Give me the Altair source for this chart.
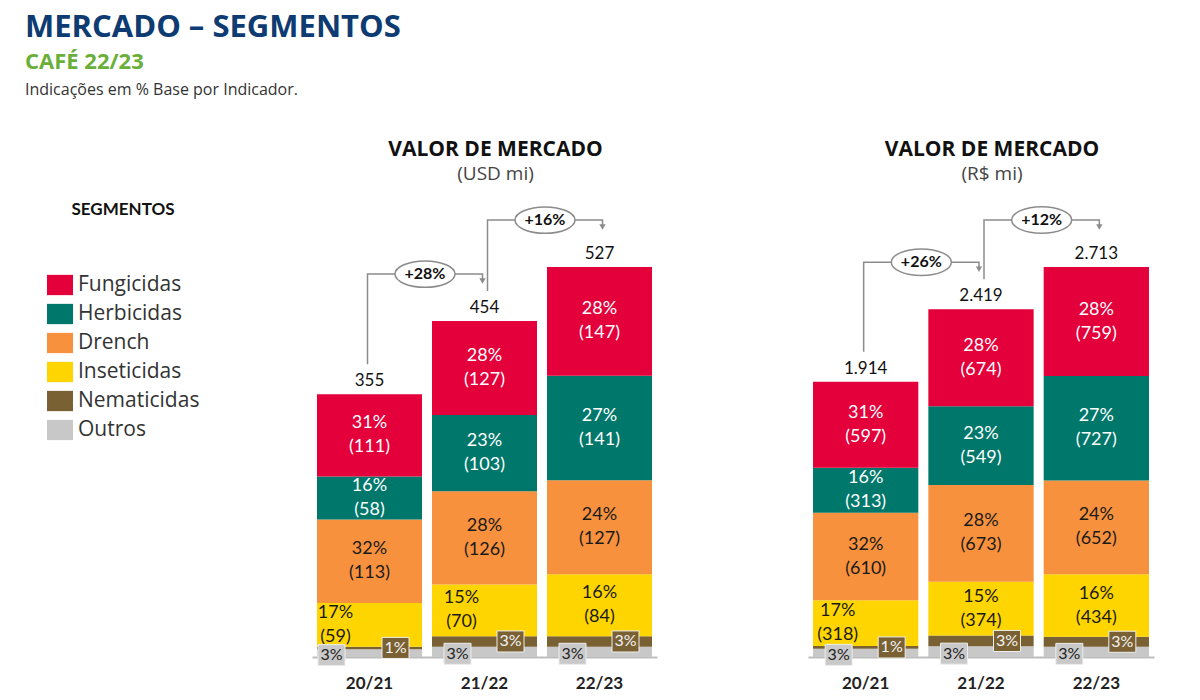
import altair as alt
import pandas as pd

# ---------------- data ----------------
SEASONS = ["20/21", "21/22", "22/23"]
SEGMENTS = ["Fungicidas", "Herbicidas", "Drench", "Inseticidas", "Nematicidas", "Outros"]
COLORS = ["#E4003A", "#00776B", "#F7913D", "#FFD500", "#7A6133", "#C8C8C8"]

# USD mi
USD_FUNGICIDAS = [111, 127, 147]
USD_HERBICIDAS = [58, 103, 141]
USD_DRENCH = [113, 126, 127]
USD_INSETICIDAS = [59, 70, 84]
USD_NEMATICIDAS = [3.5, 14, 14]
USD_OUTROS = [10.5, 14, 14]
USD_TOTALS = [355, 454, 527]
USD_TOTAL_LABELS = ["355", "454", "527"]
USD_GROWTH = ["+28%", "+16%"]

# R$ mi
BRL_FUNGICIDAS = [597, 674, 759]
BRL_HERBICIDAS = [313, 549, 727]
BRL_DRENCH = [610, 673, 652]
BRL_INSETICIDAS = [318, 374, 434]
BRL_NEMATICIDAS = [19, 75, 70]
BRL_OUTROS = [57, 74, 71]
BRL_TOTALS = [1914, 2419, 2713]
BRL_TOTAL_LABELS = ["1.914", "2.419", "2.713"]
BRL_GROWTH = ["+26%", "+12%"]

# shares (%), same in both panels
PCT_FUNGICIDAS = [31, 28, 28]
PCT_HERBICIDAS = [16, 23, 27]
PCT_DRENCH = [32, 28, 24]
PCT_INSETICIDAS = [17, 15, 16]
PCT_NEMATICIDAS = [1, 3, 3]
PCT_OUTROS = [3, 3, 3]

# ---------------- layout / style ----------------
H = 455
GRAY = "#8C8C8C"
RECT_PATH = "M-1,-0.78L1,-0.78L1,0.78L-1,0.78Z"
ELLIPSE_PATH = "M-1,0A1,0.44 0 1,1 1,0A1,0.44 0 1,1 -1,0Z"
NUM_FONT = "Lato"
TXT_FONT = "Open Sans"
LINE_H = 24

pcts = {
    "Fungicidas": PCT_FUNGICIDAS, "Herbicidas": PCT_HERBICIDAS, "Drench": PCT_DRENCH,
    "Inseticidas": PCT_INSETICIDAS, "Nematicidas": PCT_NEMATICIDAS, "Outros": PCT_OUTROS,
}


def frame(vals):
    rows = []
    for j, s in enumerate(SEASONS):
        base = 0.0
        for seg in reversed(SEGMENTS):
            v = vals[seg][j]
            rows.append(dict(season=s, segment=seg, value=v, y0=base, y1=base + v,
                             mid=base + v / 2, pct=f"{pcts[seg][j]}%",
                             label=f"{pcts[seg][j]}%\n({v:g})"))
            base += v
    return pd.DataFrame(rows)


def panel(vals, totals, total_labels, growth, unit, ymax, width, show_legend, shifts, box_shift):
    df = frame(vals)
    k = H / ymax  # pixels per unit
    step = width / 3.0
    xs = alt.Scale(domain=SEASONS, paddingInner=0.087, paddingOuter=0.0435)
    x_enc = alt.X("season:N", sort=SEASONS, scale=xs,
                  axis=alt.Axis(title=None, labelAngle=0, labelFont=NUM_FONT, labelFontSize=17,
                                labelFontWeight="bold", labelColor="#222", labelPadding=18,
                                ticks=False, domainColor="#BDBDBD", domainWidth=2, grid=False))
    ys = alt.Scale(domain=[0, ymax], nice=False, zero=True)

    legend = None
    if show_legend:
        legend = alt.Legend(title="SEGMENTOS", orient="left", offset=112,
                            titleFont=NUM_FONT, titleFontSize=17, titleFontWeight="bold",
                            titleColor="#111", titleAnchor="middle", titlePadding=53,
                            labelFont=TXT_FONT, labelFontSize=21, labelColor="#333",
                            labelOffset=5, symbolType=RECT_PATH, symbolSize=676,
                            symbolStrokeWidth=0, symbolOpacity=1, rowPadding=5, padding=0)

    bars = alt.Chart(df).mark_bar().encode(
        x=x_enc,
        y=alt.Y("y0:Q", scale=ys, axis=None),
        y2="y1:Q",
        color=alt.Color("segment:N", scale=alt.Scale(domain=SEGMENTS, range=COLORS), legend=legend),
    )
    layers = [bars]

    # segment labels (two lines, centred on the segment)
    big = df[df.segment.isin(["Fungicidas", "Herbicidas", "Drench", "Inseticidas"])].copy()
    big["shift"] = [shifts.get((r.season, r.segment), 0) for r in big.itertuples()]
    big["light"] = big.segment.isin(["Fungicidas", "Herbicidas"])
    for (light, sh), sub in big.groupby(["light", "shift"]):
        layers.append(alt.Chart(sub).mark_text(
            lineBreak="\n", lineHeight=LINE_H, font=NUM_FONT, fontSize=18,
            color="#FFFFFF" if light else "#1A1A1A", dx=float(sh), dy=-LINE_H / 2).encode(
            x=x_enc, y=alt.Y("mid:Q", scale=ys, axis=None), text="label:N"))

    # small boxes (Outros grey, Nematicidas brown)
    for seg, fill, tcol, base_xo, yo in [("Outros", "#C9C9C9", "#222222", -27, 2),
                                         ("Nematicidas", "#7A6133", "#F2F2F2", 26, 0)]:
        sub = df[df.segment == seg].copy()
        sub["xo"] = [box_shift.get((r.season, seg), base_xo) for r in sub.itertuples()]
        for xo, part in sub.groupby("xo"):
            xo = float(xo)
            layers.append(alt.Chart(part).mark_point(
                shape=RECT_PATH, size=729, filled=True, fill=fill, stroke="#EDEDED",
                strokeWidth=1, opacity=1, xOffset=xo, yOffset=yo).encode(
                x=x_enc, y=alt.Y("mid:Q", scale=ys, axis=None)))
            layers.append(alt.Chart(part).mark_text(
                font=NUM_FONT, fontSize=16, color=tcol, dx=xo, dy=yo).encode(
                x=x_enc, y=alt.Y("mid:Q", scale=ys, axis=None), text="pct:N"))

    # totals
    tdf = pd.DataFrame(dict(season=SEASONS, total=totals, label=total_labels))
    layers.append(alt.Chart(tdf).mark_text(
        font=NUM_FONT, fontSize=17, color="#111", baseline="alphabetic", dy=-8).encode(
        x=x_enc, y=alt.Y("total:Q", scale=ys, axis=None), text="label:N"))

    # growth connectors
    for i, (off, g) in enumerate(zip([-2, 3], growth)):
        start = totals[i] + 30 / k
        level = totals[i + 1] + 47 / k
        tip = totals[i + 1] + 37 / k
        path = pd.DataFrame(dict(season=[SEASONS[i], SEASONS[i], SEASONS[i + 1], SEASONS[i + 1]],
                                 v=[start, level, level, tip + 3 / k], o=[0, 1, 2, 3]))
        layers.append(alt.Chart(path).mark_line(color=GRAY, strokeWidth=1.5, xOffset=off).encode(
            x=x_enc, y=alt.Y("v:Q", scale=ys, axis=None), order=alt.Order("o:Q")))
        head = pd.DataFrame(dict(season=[SEASONS[i + 1]], v=[tip + 3 / k]))
        layers.append(alt.Chart(head).mark_point(
            shape="triangle-down", size=40, filled=True, color=GRAY, opacity=1, xOffset=off).encode(
            x=x_enc, y=alt.Y("v:Q", scale=ys, axis=None)))
        bub = pd.DataFrame(dict(season=[SEASONS[i]], v=[level], label=[g]))
        layers.append(alt.Chart(bub).mark_point(
            shape=ELLIPSE_PATH, size=3600, filled=True, fill="white", stroke=GRAY,
            strokeWidth=1.5, opacity=1, xOffset=step / 2 + off).encode(
            x=x_enc, y=alt.Y("v:Q", scale=ys, axis=None)))
        layers.append(alt.Chart(bub).mark_text(
            font=NUM_FONT, fontSize=16, fontWeight="bold", color="#111", dx=step / 2 + off).encode(
            x=x_enc, y=alt.Y("v:Q", scale=ys, axis=None), text="label:N"))

    return alt.layer(*layers).properties(
        width=width, height=H,
        title=alt.TitleParams(text="VALOR DE MERCADO", subtitle=unit, font=TXT_FONT, fontSize=21,
                              fontWeight="bold", color="#111", subtitleFont=TXT_FONT,
                              subtitleFontSize=19, subtitleColor="#444", subtitlePadding=5,
                              offset=18, anchor="middle", dx=11))


usd_vals = {"Fungicidas": USD_FUNGICIDAS, "Herbicidas": USD_HERBICIDAS, "Drench": USD_DRENCH,
            "Inseticidas": USD_INSETICIDAS, "Nematicidas": USD_NEMATICIDAS, "Outros": USD_OUTROS}
brl_vals = {"Fungicidas": BRL_FUNGICIDAS, "Herbicidas": BRL_HERBICIDAS, "Drench": BRL_DRENCH,
            "Inseticidas": BRL_INSETICIDAS, "Nematicidas": BRL_NEMATICIDAS, "Outros": BRL_OUTROS}

left = panel(usd_vals, USD_TOTALS, USD_TOTAL_LABELS, USD_GROWTH, "(USD mi)", 615, 345, True,
             {("20/21", "Inseticidas"): -34, ("21/22", "Inseticidas"): -23},
             {("20/21", "Outros"): -38})
right = panel(brl_vals, BRL_TOTALS, BRL_TOTAL_LABELS, BRL_GROWTH, "(R$ mi)", 3165, 346, False,
              {("20/21", "Inseticidas"): -28}, {})

inner = alt.hconcat(left, right, spacing=151, title=alt.TitleParams(
    text="Indicações em % Base por Indicador.", anchor="start", dx=-22, font=TXT_FONT,
    fontSize=16, fontWeight="normal", color="#333", offset=41)
).resolve_scale(color="independent").resolve_legend(color="independent")

chart = alt.vconcat(inner, title=alt.TitleParams(
    text="MERCADO – SEGMENTOS", subtitle="CAFÉ 22/23", anchor="start", font=TXT_FONT,
    fontSize=31, fontWeight="bold", color="#0D3B72", subtitleFont=TXT_FONT,
    subtitleFontSize=22, subtitleFontWeight="bold", subtitleColor="#6AAF3A",
    subtitlePadding=8, offset=8)
).resolve_scale(color="independent").resolve_legend(color="independent").properties(
    padding={"left": 17, "top": 4, "right": 5, "bottom": 0}
).configure_view(strokeWidth=0)

chart.save("out.html", embed_options={"renderer": "svg", "actions": False})
